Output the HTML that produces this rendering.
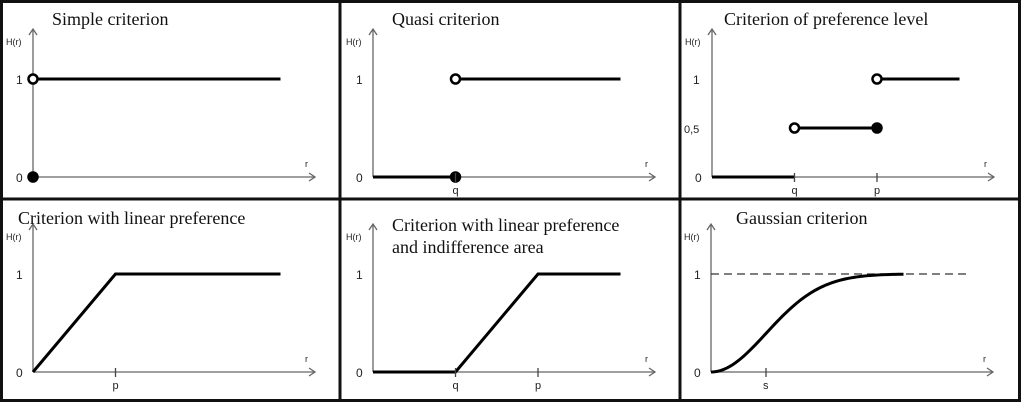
<!DOCTYPE html>
<html><head><meta charset="utf-8"><style>
html,body{margin:0;padding:0;background:#fff;}
svg{display:block;}
text{font-family:"Liberation Sans",sans-serif;fill:#222;}
.t{font-family:"Liberation Serif",serif;font-size:18px;fill:#111;}
</style></head><body>
<svg id="c" width="1024" height="403" viewBox="0 0 1024 403"></svg>
<script>
const NS="http://www.w3.org/2000/svg";
const svg=document.getElementById('c');
// data
const titles=[["Simple criterion"],["Quasi criterion"],["Criterion of preference level"],["Criterion with linear preference"],["Criterion with linear preference","and indifference area"],["Gaussian criterion"]];
const q=3, p=6, pLin=3, s=2, rEnd=9, gEnd=7;
const simpleLine=[[0,1],[rEnd,1]];
const quasiLines=[[[0,0],[q,0]],[[q,1],[rEnd,1]]];
const levelLines=[[[0,0],[q,0]],[[q,0.5],[p,0.5]],[[p,1],[rEnd,1]]];
const linearLine=[[0,0],[pLin,1],[rEnd,1]];
const linIndLine=[[0,0],[q,0],[p,1],[rEnd,1]];
const ux=27.5, uy=98;
const panels=[[33,177],[373,177],[712,177],[33,372],[373,372],[711,372]];
const titlePos=[[52,25],[392,25],[724,25],[18,224],[392,231],[736,224]];
function mk(t,a,parent){const e=document.createElementNS(NS,t);for(const k in a)e.setAttribute(k,a[k]);(parent||svg).appendChild(e);return e;}
function X(i,r){return panels[i][0]+r*ux;}
function Y(i,h){return panels[i][1]-h*uy;}
// borders
mk('rect',{x:1.5,y:1.5,width:1018,height:399,fill:'none',stroke:'#111','stroke-width':3});
mk('line',{x1:0,y1:199,x2:1020,y2:199,stroke:'#111','stroke-width':3});
mk('line',{x1:340,y1:0,x2:340,y2:402,stroke:'#111','stroke-width':3});
mk('line',{x1:680,y1:0,x2:680,y2:402,stroke:'#111','stroke-width':3});
panels.forEach((o,i)=>{
  const g=mk('g',{});
  
  
  const ox=o[0],oy=o[1],xe=ox+282;
  const ax=mk('path',{d:`M${ox},${oy} H${xe} M${xe-6},${oy-4} L${xe},${oy} L${xe-6},${oy+4} M${ox},${oy} V${oy-148} M${ox-4},${oy-142} L${ox},${oy-148} L${ox+4},${oy-142}`,fill:'none',stroke:'#666','stroke-width':1.3},g);
  
  mk('text',{x:ox-27,y:oy-132,'font-size':9},g).textContent='H(r)';
  mk('text',{x:xe-10,y:oy-10,'font-size':9},g).textContent='r';
  mk('text',{x:ox-17,y:oy+5,'font-size':12},g).textContent='0';
  mk('text',{x:ox-(i==2?19:17),y:Y(i,1)+5,'font-size':12},g).textContent='1';
  titles[i].forEach((t,k)=>{const e=mk('text',{x:titlePos[i][0],y:titlePos[i][1]+k*22,class:'t'},g);e.textContent=t;});
});
function poly(i,pts,name){const d=pts.map((pt,k)=>(k?'L':'M')+X(i,pt[0])+','+Y(i,pt[1])).join(' ');const e=mk('path',{d,fill:'none',stroke:'#000','stroke-width':3});}
function dot(i,r,h,open){const e=mk('circle',{cx:X(i,r),cy:Y(i,h),r:4.5,fill:open?'#fff':'#000',stroke:'#000','stroke-width':2.5});}
function tick(i,r,lbl){mk('line',{x1:X(i,r),y1:panels[i][1]-4,x2:X(i,r),y2:panels[i][1]+5,stroke:'#444','stroke-width':1.3});mk('text',{x:X(i,r)-3,y:panels[i][1]+17,'font-size':11}).textContent=lbl;}
// panel 1
poly(0,simpleLine,'h-line');dot(0,0,1,true);dot(0,0,0,false);
// panel 2
quasiLines.forEach(l=>poly(1,l,'h-line'));dot(1,q,1,true);dot(1,q,0,false);tick(1,q,'q');
// panel 3
levelLines.forEach(l=>poly(2,l,'h-line'));dot(2,q,0.5,true);dot(2,p,0.5,false);dot(2,p,1,true);tick(2,q,'q');tick(2,p,'p');
mk('text',{x:684,y:Y(2,0.5)+5,'font-size':11}).textContent='0,5';
// panel 4
poly(3,linearLine,'linear-line');tick(3,pLin,'p');
// panel 5
poly(4,linIndLine,'linear-line');tick(4,q,'q');tick(4,p,'p');
// panel 6
mk('line',{x1:X(5,0),y1:Y(5,1),x2:X(5,9.3),y2:Y(5,1),stroke:'#333','stroke-width':1.3,'stroke-dasharray':'8,5'});
const gp=[];for(let k=0;k<=70;k++){const r=gEnd*k/70;gp.push([r,1-Math.exp(-r*r/(2*s*s))]);}
poly(5,gp,'gaussian-curve');tick(5,s,'s');
</script>
</body></html>
